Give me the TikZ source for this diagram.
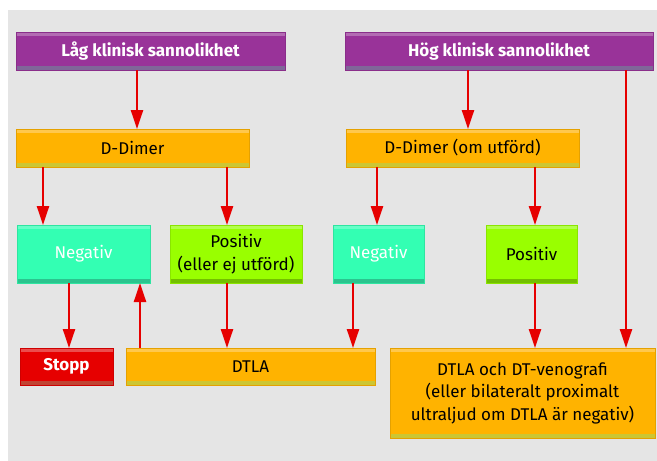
\documentclass[tikz,border=0pt]{standalone}
\usepackage{fontspec}
\setmainfont{Fira Sans}
\usetikzlibrary{arrows.meta}
\definecolor{bg}{HTML}{E5E5E5}
\definecolor{purp}{HTML}{993399}
\definecolor{purpT}{HTML}{B36BB3}
\definecolor{purpB}{HTML}{806699}
\definecolor{orng}{HTML}{FFB300}
\definecolor{orngT}{HTML}{FFC84D}
\definecolor{orngB}{HTML}{CCC633}
\definecolor{teal}{HTML}{33FFB3}
\definecolor{tealT}{HTML}{66FFC8}
\definecolor{tealB}{HTML}{2BC48E}
\definecolor{lime}{HTML}{99FF00}
\definecolor{limeT}{HTML}{B3FF4D}
\definecolor{limeB}{HTML}{73BF00}
\definecolor{stopc}{HTML}{E60000}
\definecolor{stopT}{HTML}{EB4D4D}
\definecolor{stopB}{HTML}{C04433}
\definecolor{arrc}{HTML}{E60000}
\tikzset{
  fbox/.style n args={3}{fill=#1, draw=#1!90!black, line width=0.6pt,
    inner sep=0pt, outer sep=0pt, anchor=north west, align=center,
    font=\fontsize{17}{22.5}\selectfont,
    path picture={
      \fill[#2] (path picture bounding box.north west) rectangle ([yshift=-4pt]path picture bounding box.north east);
      \fill[#3] (path picture bounding box.south west) rectangle ([yshift=4.5pt]path picture bounding box.south east);
    }},
  purpbox/.style={fbox={purp}{purpT}{purpB}, text=white, font=\fontsize{17}{22.5}\selectfont\bfseries},
  orngbox/.style={fbox={orng}{orngT}{orngB}, text=black},
  tealbox/.style={fbox={teal}{tealT}{tealB}, text=white},
  limebox/.style={fbox={lime}{limeT}{limeB}, text=black},
  stopbox/.style={fbox={stopc}{stopT}{stopB}, text=white, font=\fontsize{17}{22.5}\selectfont\bfseries},
  arr/.style={draw=arrc, line width=2.4pt, -{Triangle[width=12pt,length=19pt]}},
}
\begin{document}
\begin{tikzpicture}[x=1pt,y=-1pt]
\useasboundingbox (0,0) rectangle (657,461);
\fill[bg] (8,10) rectangle (657,461);
\node[purpbox, minimum width=269pt, minimum height=38pt] (low) at (16,32) {Låg klinisk sannolikhet};
\node[purpbox, minimum width=308pt, minimum height=38pt] (high) at (345,32) {Hög klinisk sannolikhet};
\node[orngbox, minimum width=233pt, minimum height=38pt] (dd1) at (16,129) {D-Dimer};
\node[orngbox, minimum width=233pt, minimum height=38pt] (dd2) at (346,129) {D-Dimer (om utförd)};
\node[tealbox, minimum width=133pt, minimum height=58pt] (neg1) at (17,225) {Negativ};
\node[limebox, minimum width=132pt, minimum height=58pt] (pos1) at (170,225) {Positiv\\(eller ej utförd)};
\node[tealbox, minimum width=91pt, minimum height=58pt] (neg2) at (333,225) {Negativ};
\node[limebox, minimum width=91pt, minimum height=58pt] (pos2) at (486,225) {Positiv};
\node[stopbox, minimum width=93pt, minimum height=37pt] (stopp) at (20,348) {Stopp};
\node[orngbox, minimum width=249pt, minimum height=37pt] (dtla) at (126,348) {DTLA};
\node[orngbox, minimum width=265pt, minimum height=90pt] (big) at (390,348) {DTLA och DT-venografi\\(eller bilateralt proximalt\\ultraljud om DTLA är negativ)};
% arrows
\draw[arr] ([xshift=4.5pt]dd1.north |- low.south) -- ([xshift=4.5pt]dd1.north);
\draw[arr] ([xshift=5.5pt]dd2.north |- high.south) -- ([xshift=5.5pt]dd2.north);
\draw[arr] ([xshift=-27pt]high.south east) -- ([xshift=-27pt]high.south east |- big.north);
\draw[arr] ([xshift=-40.5pt]neg1.north |- dd1.south) -- ([xshift=-40.5pt]neg1.north);
\draw[arr] ([xshift=-9pt]pos1.north |- dd1.south) -- ([xshift=-9pt]pos1.north);
\draw[arr] ([xshift=-1.5pt]neg2.north |- dd2.south) -- ([xshift=-1.5pt]neg2.north);
\draw[arr] ([xshift=3.5pt]pos2.north |- dd2.south) -- ([xshift=3.5pt]pos2.north);
\draw[arr] ([xshift=2.5pt]stopp.north |- neg1.south) -- ([xshift=2.5pt]stopp.north);
\draw[arr] ([xshift=-10pt]neg1.south east |- dtla.north) -- ([xshift=-10pt]neg1.south east);
\draw[arr] ([xshift=-9pt]pos1.south) -- ([xshift=-9pt]pos1.south |- dtla.north);
\draw[arr] ([xshift=-25.5pt]neg2.south) -- ([xshift=-25.5pt]neg2.south |- dtla.north);
\draw[arr] ([xshift=3.5pt]pos2.south) -- ([xshift=3.5pt]pos2.south |- big.north);
\end{tikzpicture}
\end{document}
